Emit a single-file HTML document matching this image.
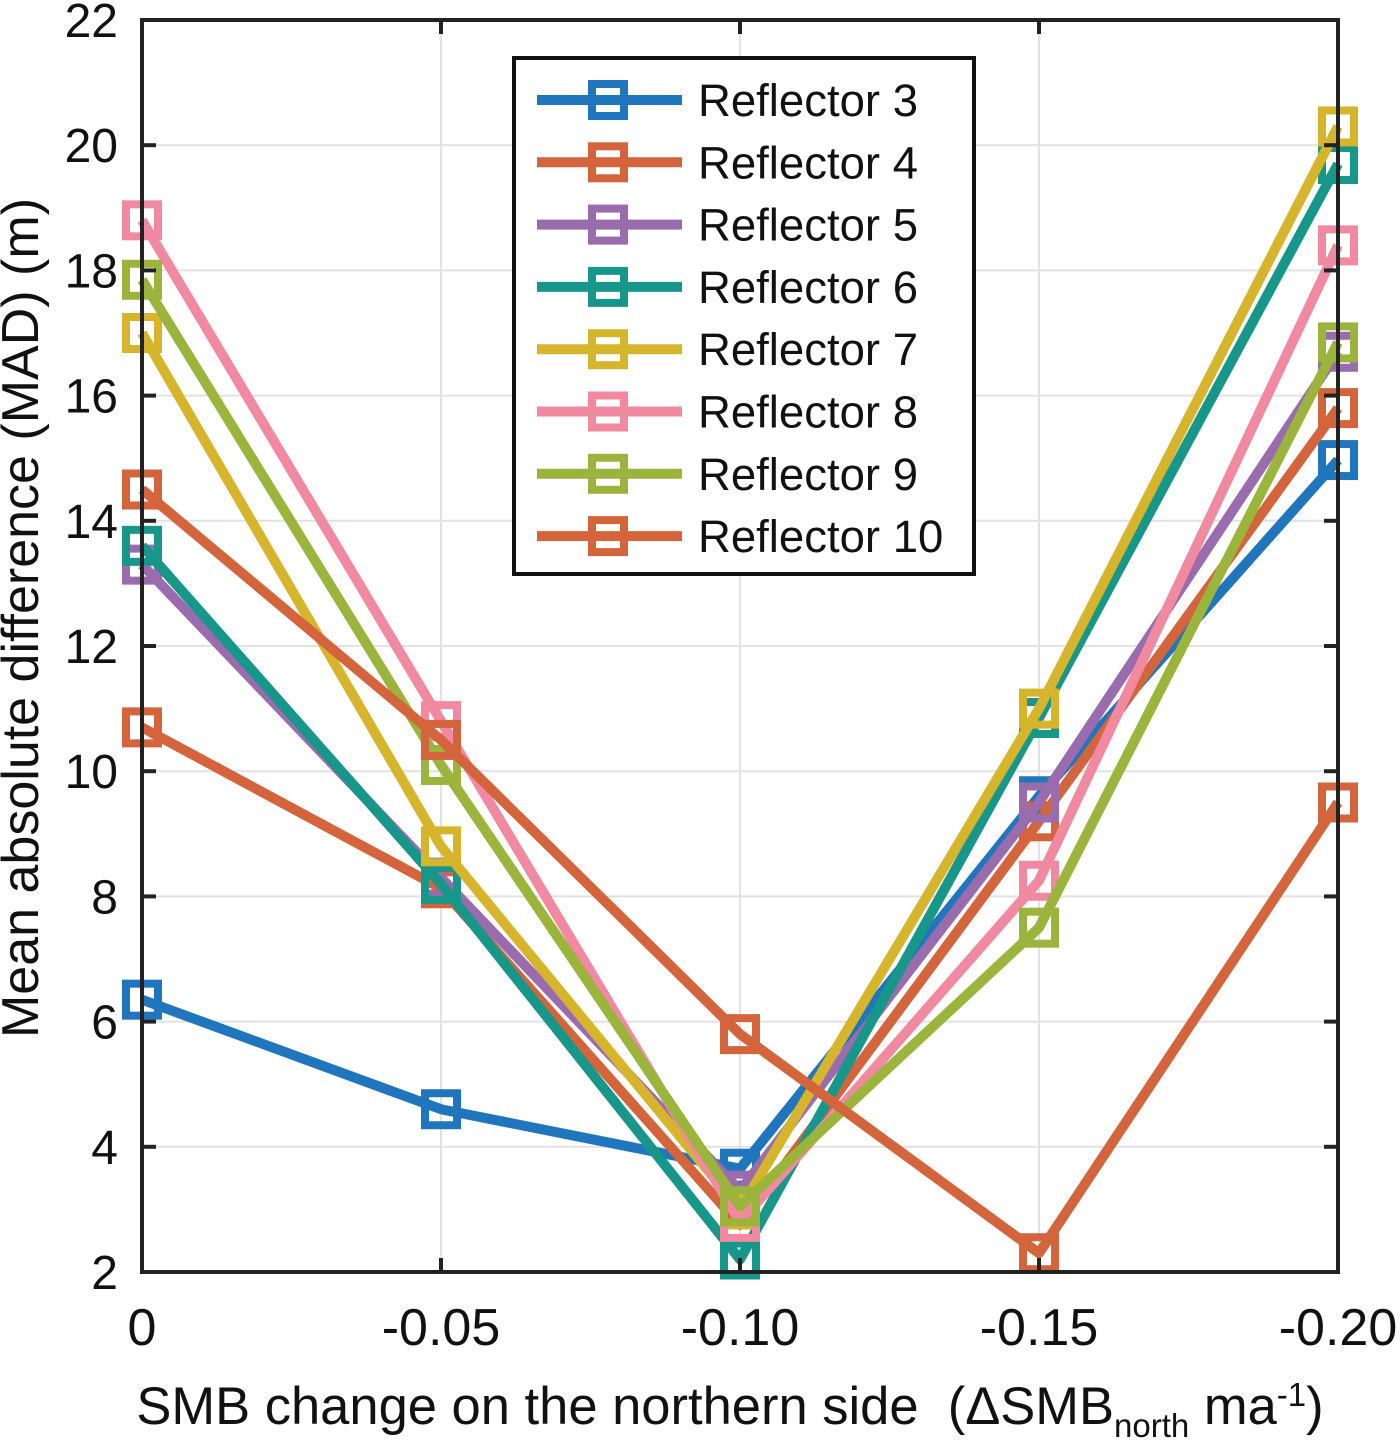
<!DOCTYPE html>
<html><head><meta charset="utf-8"><style>
html,body{margin:0;padding:0;background:#fff;}
svg{display:block;font-family:"Liberation Sans",Arial,sans-serif;}
</style></head><body>
<svg id="chart" width="1400" height="1444" viewBox="0 0 1400 1444" xmlns="http://www.w3.org/2000/svg">
<g id="grid"></g>
<g id="series"></g>
<rect x="142" y="20" width="1196" height="1252" fill="none" stroke="#222" stroke-width="4"/>
<g id="ticks"></g>
<text transform="translate(38,618) rotate(-90)" text-anchor="middle" font-size="52" fill="#111">Mean absolute difference (MAD) (m)</text>
<text x="730" y="1424" text-anchor="middle" font-size="52.5" fill="#111" xml:space="preserve">SMB change on the northern side  (ΔSMB<tspan font-size="33" dy="13">north</tspan><tspan dy="-13"> ma</tspan><tspan font-size="33" dy="-18">-1</tspan><tspan dy="18">)</tspan></text>
<g id="legend"></g>
</svg>
<script>
const categories = ["0", "-0.05", "-0.10", "-0.15", "-0.20"];
const yTicks = [2,4,6,8,10,12,14,16,18,20,22];
const seriesNames = ["Reflector 3","Reflector 4","Reflector 5","Reflector 6","Reflector 7","Reflector 8","Reflector 9","Reflector 10"];
const r3 = [6.35, 4.6, 3.65, 9.6, 14.97];
const r4 = [10.7, 8.13, 2.75, 9.2, 15.8];
const r5 = [13.3, 8.3, 3.3, 9.5, 16.7];
const r6 = [13.6, 8.2, 2.2, 10.85, 19.7];
const r7 = [17.0, 8.8, 3.0, 11.0, 20.3];
const r8 = [18.8, 10.8, 2.8, 8.25, 18.4];
const r9 = [17.85, 10.1, 3.05, 7.5, 16.85];
const r10 = [14.5, 10.5, 5.8, 2.3, 9.5];
const seriesValues = [r3,r4,r5,r6,r7,r8,r9,r10];
const colors = ["#1f76bd","#d3643b","#9a6cae","#17968a","#d6b52c","#f189a1","#9bb43b","#d3643b"];

const NS="http://www.w3.org/2000/svg";
const X0=142,X1=1338,Y0=20,Y1=1272;
const xs = i => X0 + i*(X1-X0)/(categories.length-1);
const ys = v => Y1 - (v-2)*(Y1-Y0)/20;
function mk(tag,attrs,parent){const e=document.createElementNS(NS,tag);for(const k in attrs)e.setAttribute(k,attrs[k]);parent.appendChild(e);return e;}
const grid=document.getElementById('grid'),ticks=document.getElementById('ticks'),ser=document.getElementById('series'),leg=document.getElementById('legend');
categories.forEach((c,i)=>{
  const x=xs(i);
  const g=mk('line',{x1:x,x2:x,y1:Y0,y2:Y1,stroke:'#e2e2e2','stroke-width':2},grid);
  
  
  const t1=mk('line',{x1:x,x2:x,y1:Y1,y2:Y1-14,stroke:'#222','stroke-width':4},ticks);
  
  
  const t2=mk('line',{x1:x,x2:x,y1:Y0,y2:Y0+14,stroke:'#222','stroke-width':4},ticks);
  
  
  const tx=mk('text',{x:x,y:1345,'text-anchor':'middle','font-size':52,fill:'#111'},ticks);
  tx.textContent=c;
  
  
});
yTicks.forEach(v=>{
  const y=ys(v);
  const g=mk('line',{x1:X0,x2:X1,y1:y,y2:y,stroke:'#e2e2e2','stroke-width':2},grid);
  
  
  const t1=mk('line',{x1:X0,x2:X0+14,y1:y,y2:y,stroke:'#222','stroke-width':4},ticks);
  
  
  const t2=mk('line',{x1:X1,x2:X1-14,y1:y,y2:y,stroke:'#222','stroke-width':4},ticks);
  
  
  const tx=mk('text',{x:118,y:y+17,'text-anchor':'end','font-size':48,fill:'#111'},ticks);
  tx.textContent=v;
  
  
});
seriesValues.forEach((vals,s)=>{
  const g=mk('g',{},ser);
  
  
  const pts=vals.map((v,i)=>xs(i)+','+ys(v)).join(' ');
  const pl=mk('polyline',{points:pts,fill:'none',stroke:colors[s],'stroke-width':10,'stroke-linejoin':'round'},g);
  
  
  vals.forEach((v,i)=>{
    const r=mk('rect',{x:xs(i)-16,y:ys(v)-16,width:32,height:32,fill:'none',stroke:colors[s],'stroke-width':8},g);
    
    
  });
});
const box=mk('rect',{x:514,y:58,width:460,height:516,fill:'#fff',stroke:'#111','stroke-width':4},leg);


seriesNames.forEach((n,s)=>{
  const y=100+s*62.3;
  const g=mk('g',{},leg);
  
  
  mk('line',{x1:537,x2:682,y1:y,y2:y,stroke:colors[s],'stroke-width':10},g);
  mk('rect',{x:592,y:y-16,width:32,height:32,fill:'none',stroke:colors[s],'stroke-width':8},g);
  const t=mk('text',{x:698,y:y+16,'font-size':45.5,fill:'#111'},g);
  t.textContent=n;
});
</script>
</body></html>
